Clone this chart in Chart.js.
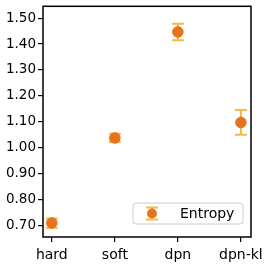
<!DOCTYPE html>
<html>
<head>
<meta charset="utf-8">
<script src="https://cdn.jsdelivr.net/npm/chart.js@4"></script>
<style>
  html, body { margin: 0; padding: 0; background: #fff; }
  #wrap { width: 266px; height: 266px; }
</style>
</head>
<body>
<div id="wrap"><canvas id="myChart" width="266" height="266"></canvas></div>
<script>
// data
const categories = ["hard", "soft", "dpn", "dpn-kl"];
const entropyMean = [0.708, 1.037, 1.447, 1.097];
const entropyErr = [0.018, 0.016, 0.032, 0.048];
const yTicks = [0.7, 0.8, 0.9, 1.0, 1.1, 1.2, 1.3, 1.4, 1.5];

const pointColor = "#e8731f";
const errColor = "#f6b944";
const font = "DejaVu Sans";

const points = entropyMean.map((v, i) => ({ x: i, y: v }));

// error bars, box frame and legend
const extras = {
  id: "extras",
  beforeDatasetsDraw(chart) {
    const ctx = chart.ctx;
    const xs = chart.scales.x, ys = chart.scales.y;
    ctx.save();
    ctx.strokeStyle = errColor;
    ctx.lineWidth = 2;
    entropyMean.forEach((m, i) => {
      const px = xs.getPixelForValue(i);
      const top = ys.getPixelForValue(m + entropyErr[i]);
      const bot = ys.getPixelForValue(m - entropyErr[i]);
      ctx.beginPath();
      ctx.moveTo(px, top); ctx.lineTo(px, bot);
      ctx.moveTo(px - 6, top); ctx.lineTo(px + 6, top);
      ctx.moveTo(px - 6, bot); ctx.lineTo(px + 6, bot);
      ctx.stroke();
    });
    ctx.restore();
  },
  afterDraw(chart) {
    const ctx = chart.ctx;
    const a = chart.chartArea;
    ctx.save();
    // full frame
    ctx.strokeStyle = "#000";
    ctx.lineWidth = 1.5;
    ctx.strokeRect(a.left, a.top, a.right - a.left, a.bottom - a.top);

    // legend box lower right
    const w = 110, h = 21;
    const lx = a.right - 8 - w, ly = a.bottom - 13 - h;
    ctx.fillStyle = "rgba(255,255,255,0.8)";
    ctx.strokeStyle = "#cccccc";
    ctx.lineWidth = 1;
    ctx.beginPath();
    ctx.roundRect(lx, ly, w, h, 3);
    ctx.fill();
    ctx.stroke();
    const mx = lx + 19, my = ly + h / 2;
    ctx.strokeStyle = errColor;
    ctx.lineWidth = 2;
    ctx.beginPath();
    ctx.moveTo(mx, my - 6); ctx.lineTo(mx, my + 6);
    ctx.moveTo(mx - 6, my - 6); ctx.lineTo(mx + 6, my - 6);
    ctx.moveTo(mx - 6, my + 6); ctx.lineTo(mx + 6, my + 6);
    ctx.stroke();
    ctx.fillStyle = pointColor;
    ctx.beginPath();
    ctx.arc(mx, my, 5, 0, Math.PI * 2);
    ctx.fill();
    ctx.fillStyle = "#000";
    ctx.font = "14px '" + font + "'";
    ctx.textBaseline = "middle";
    ctx.fillText("Entropy", lx + 47, my + 1);
    ctx.restore();
  }
};

const ctx = document.getElementById("myChart").getContext("2d");
new Chart(ctx, {
  type: "scatter",
  data: {
    datasets: [{
      label: "Entropy",
      data: points,
      backgroundColor: pointColor,
      borderColor: pointColor,
      pointRadius: 5.3,
      pointHoverRadius: 5.3,
    }],
  },
  options: {
    responsive: false,
    animation: false,
    events: [],
    layout: { padding: { top: 4, right: 15, left: 0, bottom: 0 } },
    plugins: { legend: { display: false }, tooltip: { enabled: false } },
    scales: {
      x: {
        type: "linear",
        min: -0.14,
        max: 3.16,
        afterBuildTicks: (s) => { s.ticks = categories.map((c, i) => ({ value: i })); },
        afterFit: (s) => { s.height = 29; s.paddingLeft = 0; s.paddingRight = 0; },
        ticks: {
          color: "#000",
          font: { family: font, size: 14 },
          padding: 5,
          maxRotation: 0,
          callback: (v) => categories[v],
        },
        grid: { drawOnChartArea: false, drawTicks: true, tickLength: 5, color: "#000", lineWidth: 1.2 },
        border: { display: false },
      },
      y: {
        min: 0.654,
        max: 1.546,
        afterBuildTicks: (s) => { s.ticks = yTicks.map((v) => ({ value: v })); },
        afterFit: (s) => { s.width = 43; s.paddingTop = 0; s.paddingBottom = 0; },
        ticks: {
          color: "#000",
          font: { family: font, size: 13.5 },
          padding: 2,
          callback: (v) => Number(v).toFixed(2),
        },
        grid: { drawOnChartArea: false, drawTicks: true, tickLength: 5, color: "#000", lineWidth: 1.2 },
        border: { display: false },
      },
    },
  },
  plugins: [extras],
});
</script>
</body>
</html>
